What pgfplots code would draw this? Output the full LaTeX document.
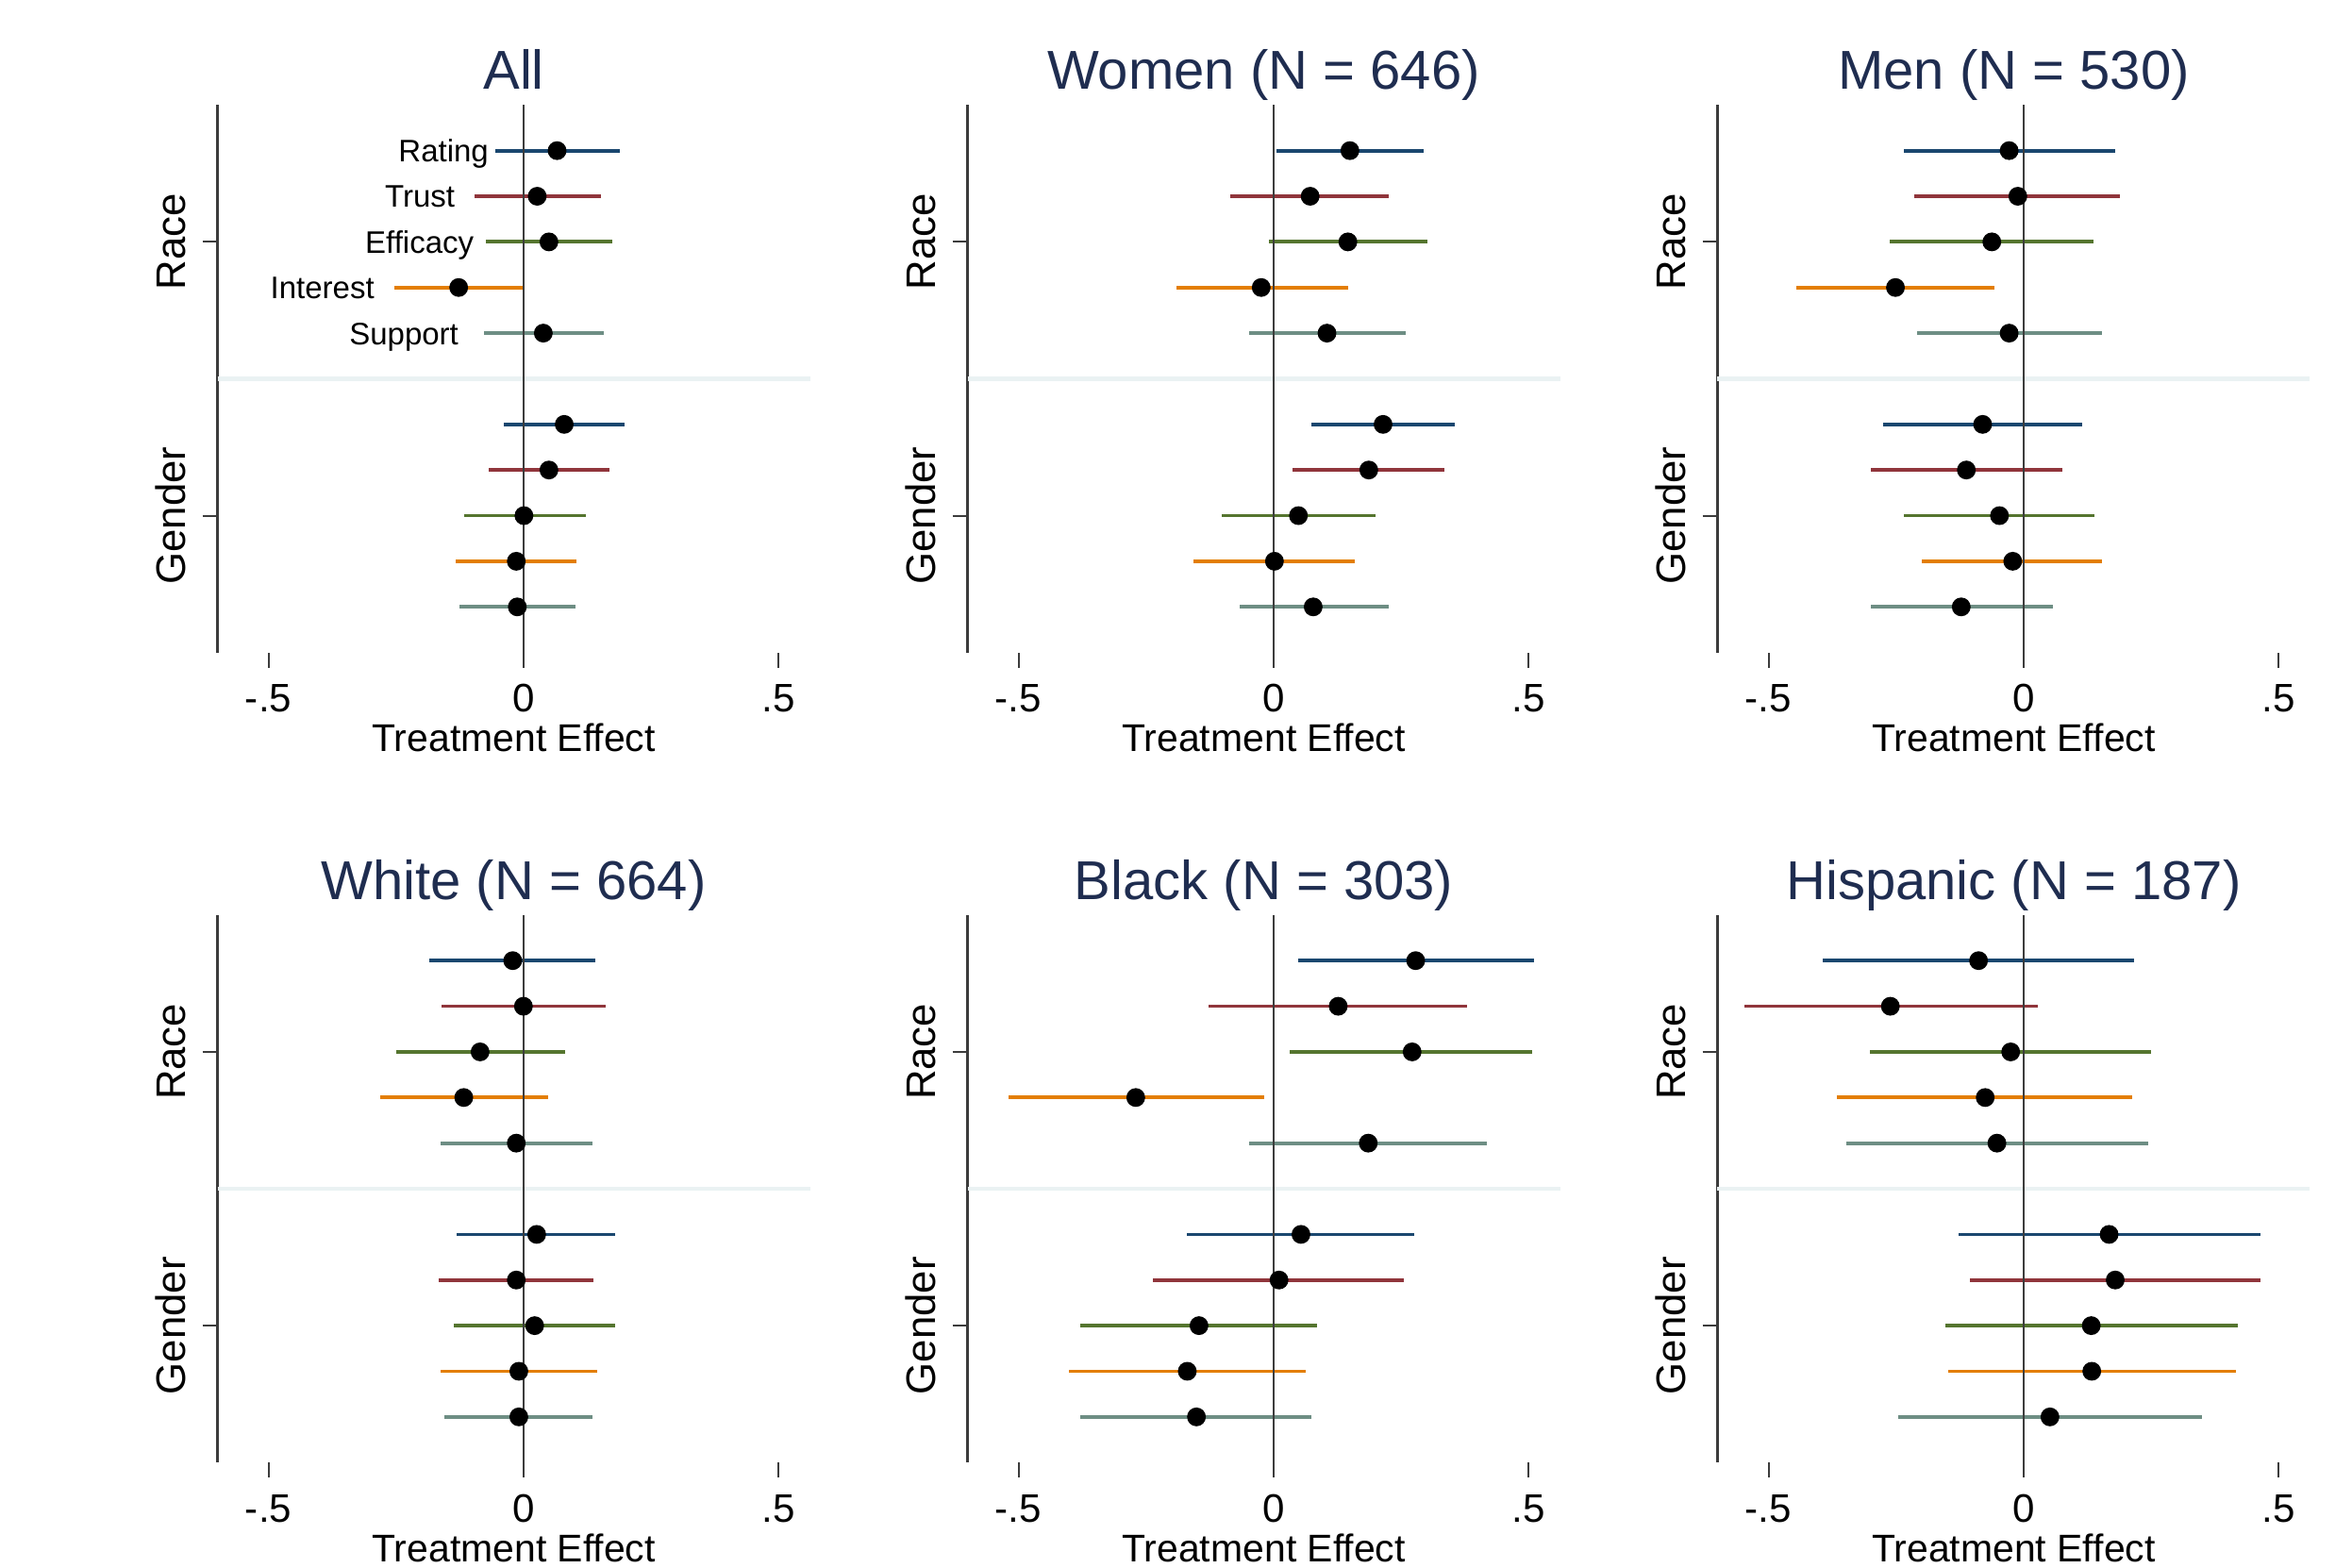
\documentclass[border=0pt]{standalone}
\usepackage{fontspec}
\setmainfont{Liberation Sans}
\usepackage{pgfplots}
\pgfplotsset{compat=1.18}
\usepackage{pgfplotstable}

\definecolor{cRating}{RGB}{26,71,111}
\definecolor{cTrust}{RGB}{144,53,59}
\definecolor{cEfficacy}{RGB}{85,117,47}
\definecolor{cInterest}{RGB}{227,126,0}
\definecolor{cSupport}{RGB}{110,142,132}
\definecolor{titlecol}{HTML}{1F2D50}
\definecolor{axisgray}{HTML}{3C3C3C}
\definecolor{sepcol}{HTML}{EAF2F3}

% columns: y est lo hi ; rows: Rating(race,gender), Trust, Efficacy, Interest, Support
\pgfplotstableread{
y est lo hi
11 0.066 -0.056 0.189
5 0.080 -0.039 0.198
10 0.027 -0.096 0.152
4 0.050 -0.069 0.168
9 0.050 -0.073 0.175
3 0.001 -0.117 0.122
8 -0.127 -0.254 0.000
2 -0.014 -0.132 0.104
7 0.039 -0.078 0.157
1 -0.012 -0.126 0.102
}\tAll
\pgfplotstableread{
y est lo hi
11 0.150 0.006 0.294
5 0.215 0.075 0.356
10 0.072 -0.084 0.227
4 0.187 0.038 0.336
9 0.146 -0.009 0.302
3 0.049 -0.101 0.201
8 -0.024 -0.191 0.146
2 0.002 -0.156 0.160
7 0.105 -0.048 0.260
1 0.078 -0.067 0.226
}\tWomen
\pgfplotstableread{
y est lo hi
11 -0.028 -0.235 0.180
5 -0.080 -0.275 0.115
10 -0.011 -0.215 0.190
4 -0.112 -0.300 0.077
9 -0.062 -0.262 0.137
3 -0.047 -0.234 0.139
8 -0.251 -0.446 -0.056
2 -0.021 -0.199 0.154
7 -0.028 -0.208 0.154
1 -0.122 -0.299 0.057
}\tMen
\pgfplotstableread{
y est lo hi
11 -0.021 -0.185 0.141
5 0.026 -0.131 0.180
10 0.000 -0.161 0.161
4 -0.014 -0.167 0.138
9 -0.085 -0.250 0.081
3 0.022 -0.137 0.180
8 -0.117 -0.280 0.049
2 -0.009 -0.163 0.145
7 -0.014 -0.163 0.135
1 -0.009 -0.156 0.135
}\tWhite
\pgfplotstableread{
y est lo hi
11 0.279 0.048 0.511
5 0.054 -0.169 0.277
10 0.127 -0.128 0.380
4 0.011 -0.236 0.256
9 0.272 0.032 0.508
3 -0.146 -0.379 0.086
8 -0.270 -0.520 -0.019
2 -0.169 -0.402 0.064
7 0.186 -0.048 0.419
1 -0.151 -0.379 0.075
}\tBlack
\pgfplotstableread{
y est lo hi
11 -0.088 -0.394 0.217
5 0.168 -0.127 0.464
10 -0.261 -0.547 0.028
4 0.180 -0.105 0.465
9 -0.025 -0.301 0.251
3 0.133 -0.153 0.421
8 -0.075 -0.365 0.214
2 0.134 -0.147 0.416
7 -0.052 -0.348 0.244
1 0.052 -0.246 0.351
}\tHisp

\pgfplotsset{
  panel/.style={
    scale only axis, width=158pt, height=146pt,
    anchor=north west,
    xmin=-0.6, xmax=0.562, ymin=0, ymax=12,
    axis lines*=left,
    x axis line style={draw=none},
    y axis line style={draw=axisgray, line width=0.6pt},
    xtick={-0.5,0,0.5}, xticklabels={-.5,0,.5},
    ytick={3,9}, yticklabels={Gender,Race},
    tick align=outside, major tick length=4pt,
    tick style={draw=axisgray, line width=0.5pt},
    xticklabel style={font=\fontsize{10.6}{12}\selectfont, anchor=base, yshift=-11.8pt},
    yticklabel style={font=\fontsize{11}{13}\selectfont, xshift=-4.6pt, rotate=90, anchor=base},
    xlabel={Treatment Effect},
    xlabel style={font=\fontsize{10.3}{12}\selectfont, at={(axis description cs:0.5,0)}, anchor=base, yshift=-26.4pt},
    title style={font=\fontsize{14.6}{17}\selectfont, color=titlecol, at={(axis description cs:0.5,1)}, anchor=base, yshift=-1.8pt},
    clip=false,
  },
}

\newcommand{\ci}[4]{%
  \addplot[draw=none, mark=none, forget plot,
    error bars/.cd, x dir=both, x explicit, error mark=none,
    error bar style={draw=#2, line width=0.95pt}]
    table[x=est, y=y,
      x error plus expr=\thisrow{hi}-\thisrow{est},
      x error minus expr=\thisrow{est}-\thisrow{lo},
      skip coords between index={0}{#3},
      skip coords between index={#4}{10}] {#1};%
}

\newcommand{\panel}[5]{%
  \begin{axis}[panel, at={(#3,#4)}, title={#2}]
    \addplot[draw=sepcol, line width=1.2pt, forget plot] coordinates {(-0.6,6) (0.562,6)};
    \ci{#1}{cRating}{0}{2}
    \ci{#1}{cTrust}{2}{4}
    \ci{#1}{cEfficacy}{4}{6}
    \ci{#1}{cInterest}{6}{8}
    \ci{#1}{cSupport}{8}{10}
    \addplot[draw=axisgray, line width=0.55pt, forget plot] coordinates {(0,0) (0,12)};
    \addplot[only marks, mark=*, mark size=2.3pt, black, forget plot] table[x=est, y=y] {#1};
    #5
  \end{axis}%
}

\begin{document}
\begin{tikzpicture}
  \path[use as bounding box] (0,0) rectangle (627.2pt,-418pt);
  \panel{\tAll}{All}{58pt}{-28pt}{%
    \begin{scope}[font=\fontsize{8.3}{10}\selectfont]
      \node[anchor=base east, inner sep=0pt, yshift=-3pt] at (axis cs:-0.067,11) {Rating};
      \node[anchor=base east, inner sep=0pt, yshift=-3pt] at (axis cs:-0.133,10) {Trust};
      \node[anchor=base east, inner sep=0pt, yshift=-3pt] at (axis cs:-0.096,9) {Efficacy};
      \node[anchor=base east, inner sep=0pt, yshift=-3pt] at (axis cs:-0.291,8) {Interest};
      \node[anchor=base east, inner sep=0pt, yshift=-3pt] at (axis cs:-0.126,7) {Support};
    \end{scope}}
  \panel{\tWomen}{Women (N = 646)}{258pt}{-28pt}{}
  \panel{\tMen}{Men (N = 530)}{458pt}{-28pt}{}
  \panel{\tWhite}{White (N = 664)}{58pt}{-244pt}{}
  \panel{\tBlack}{Black (N = 303)}{258pt}{-244pt}{}
  \panel{\tHisp}{Hispanic (N = 187)}{458pt}{-244pt}{}
\end{tikzpicture}
\end{document}
